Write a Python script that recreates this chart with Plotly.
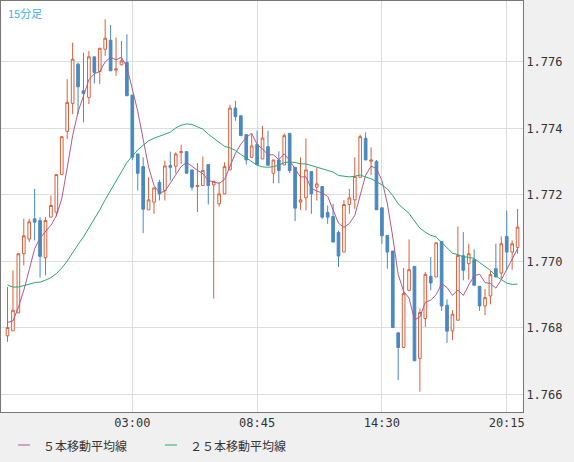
import plotly.graph_objects as go
import pandas as pd

opens = [1.76776,1.76791,1.76845,1.77023,1.77067,1.77128,1.77123,1.77011,1.77133,1.77148,
 1.77261,1.77391,1.77475,1.77593,1.77513,1.77493,1.77615,1.77571,1.77638,1.77665,
 1.77575,1.77591,1.77598,1.77500,1.77323,1.77285,1.77155,1.77178,1.77237,1.77213,
 1.77288,1.77286,1.77327,1.77330,1.77275,1.77225,1.77228,1.77291,1.77230,1.77173,
 1.77203,1.77275,1.77461,1.77438,1.77381,1.77313,1.77351,1.77308,1.77345,1.77265,
 1.77305,1.77290,1.77385,1.77283,1.77178,1.77191,1.77270,1.77223,1.77225,1.77147,
 1.77135,1.77087,1.77028,1.77171,1.77185,1.77253,1.77370,1.77301,1.77300,1.77161,
 1.77078,1.77031,1.76785,1.76741,1.76913,1.76985,1.76708,1.76828,1.76955,1.76953,
 1.77060,1.76868,1.76791,1.76823,1.77017,1.76993,1.77005,1.76925,1.76866,1.76896,
 1.76978,1.76965,1.77075,1.77028,1.77042]
highs = [1.76923,1.76973,1.77023,1.77128,1.77128,1.77218,1.77133,1.77133,1.77198,1.77261,
 1.77375,1.77548,1.77658,1.77598,1.77628,1.77633,1.77615,1.77641,1.77728,1.77711,
 1.77673,1.77663,1.77683,1.77500,1.77323,1.77313,1.77253,1.77221,1.77245,1.77303,
 1.77330,1.77328,1.77351,1.77330,1.77275,1.77296,1.77316,1.77291,1.77241,1.77238,
 1.77298,1.77471,1.77483,1.77438,1.77381,1.77383,1.77393,1.77407,1.77393,1.77305,
 1.77331,1.77385,1.77385,1.77283,1.77313,1.77370,1.77270,1.77281,1.77225,1.77168,
 1.77173,1.77093,1.77185,1.77218,1.77313,1.77381,1.77388,1.77343,1.77305,1.77161,
 1.77078,1.77031,1.76785,1.76980,1.77066,1.76985,1.76858,1.76968,1.77013,1.77056,
 1.77060,1.76886,1.76853,1.77105,1.77088,1.77053,1.77036,1.76925,1.76917,1.76971,
 1.77053,1.77075,1.77153,1.77063,1.77158]
lows = [1.76758,1.76791,1.76845,1.76988,1.77058,1.77063,1.76951,1.76958,1.77133,1.77135,
 1.77261,1.77368,1.77443,1.77443,1.77418,1.77473,1.77535,1.77533,1.77618,1.77573,
 1.77558,1.77591,1.77498,1.77305,1.77213,1.77085,1.77155,1.77143,1.77183,1.77183,
 1.77243,1.77265,1.77293,1.77265,1.77213,1.77148,1.77228,1.77171,1.76888,1.77165,
 1.77203,1.77275,1.77423,1.77378,1.77291,1.77311,1.77291,1.77308,1.77289,1.77235,
 1.77235,1.77290,1.77265,1.77121,1.77155,1.77153,1.77143,1.77183,1.77128,1.77113,
 1.77058,1.76983,1.77028,1.77143,1.77158,1.77253,1.77305,1.77260,1.77155,1.77053,
 1.76978,1.76801,1.76643,1.76741,1.76910,1.76701,1.76608,1.76803,1.76913,1.76953,
 1.76851,1.76755,1.76763,1.76823,1.76943,1.76945,1.76928,1.76851,1.76838,1.76871,
 1.76953,1.76948,1.76975,1.76975,1.77023]
closes = [1.76801,1.76853,1.77023,1.77077,1.77119,1.77118,1.77015,1.77123,1.77168,1.77261,
 1.77375,1.77478,1.77608,1.77525,1.77505,1.77615,1.77568,1.77641,1.77671,1.77573,
 1.77579,1.77603,1.77498,1.77313,1.77265,1.77157,1.77185,1.77221,1.77203,1.77287,
 1.77283,1.77323,1.77330,1.77265,1.77223,1.77228,1.77273,1.77228,1.77241,1.77203,
 1.77285,1.77461,1.77435,1.77378,1.77305,1.77347,1.77291,1.77371,1.77289,1.77305,
 1.77273,1.77378,1.77273,1.77160,1.77185,1.77275,1.77203,1.77233,1.77133,1.77133,
 1.77058,1.77016,1.77171,1.77191,1.77255,1.77375,1.77305,1.77305,1.77155,1.77077,
 1.77028,1.76801,1.76741,1.76903,1.76975,1.76701,1.76846,1.76961,1.76935,1.77056,
 1.76866,1.76790,1.76841,1.77018,1.76973,1.77023,1.76928,1.76866,1.76891,1.76960,
 1.76953,1.77053,1.77028,1.77053,1.77103]
# closes before the visible window (estimated, only used for moving-average warm-up)
prior_closes = [1.7702,1.7701,1.7700,1.7699,1.7700,1.7698,1.7697,1.7698,1.7696,1.7695,
 1.7696,1.7694,1.7695,1.7693,1.7694,1.7692,1.7693,1.7691,1.7690,1.7691,
 1.7683,1.7682,1.7682,1.7681]
tick_pos = [23, 46, 69, 92]
tick_text = ["03:00", "08:45", "14:30", "20:15"]
y_ticks = [1.766, 1.768, 1.770, 1.772, 1.774, 1.776]
legend_names = ["５本移動平均線", "２５本移動平均線"]
ma_colors = ["#b05a8a", "#2aa86a"]

n = len(closes)
x = list(range(n))
allc = pd.Series(prior_closes + closes)
ma5 = allc.rolling(5).mean().iloc[len(prior_closes):].tolist()
ma25 = allc.rolling(25).mean().iloc[len(prior_closes):].tolist()

fig = go.Figure()
fig.add_trace(go.Candlestick(x=x, open=opens, high=highs, low=lows, close=closes,
    increasing=dict(line=dict(color="#d9603b", width=1), fillcolor="white"),
    decreasing=dict(line=dict(color="#4a89c0", width=1), fillcolor="#4a89c0"),
    whiskerwidth=0, showlegend=False, hoverinfo="skip"))
for ys, name, col in zip([ma5, ma25], legend_names, ma_colors):
    fig.add_trace(go.Scatter(x=x, y=ys, mode="lines", line=dict(color=col, width=1),
                             name=name, showlegend=False, hoverinfo="skip"))

W, H = 574, 462
shapes, annotations = [], []
for name, col, x0 in zip(legend_names, ma_colors, [18, 165]):
    shapes.append(dict(type="line", xref="paper", yref="paper",
                       x0=(x0 - 1) / 522, x1=(x0 + 11) / 522,
                       y0=(H - 1 - 445) / 411, y1=(H - 1 - 445) / 411 if False else -(445 - 412) / 411,
                       line=dict(color=col, width=1)))
    annotations.append(dict(text=name, xref="paper", yref="paper", x=(x0 + 22) / 522,
                            y=-(445 - 412) / 411, xanchor="left", yanchor="middle",
                            showarrow=False,
                            font=dict(family="Noto Sans CJK JP", size=12, color="#333")))
for s in shapes:
    s["y0"] = s["y1"]
annotations.append(dict(text="15分足", xref="paper", yref="paper", x=0.01, y=0.995,
                        xanchor="left", yanchor="top", showarrow=False,
                        font=dict(family="Noto Sans CJK JP", size=11, color="#3bb0e8")))

fig.update_layout(
    width=W, height=H, margin=dict(l=1, r=51, t=1, b=50, autoexpand=False),
    paper_bgcolor="#f0f0f0", plot_bgcolor="white", showlegend=False,
    font=dict(family="DejaVu Sans Mono", size=12, color="#333"),
    xaxis=dict(range=[-1.2, 95], tickvals=tick_pos, ticktext=tick_text, showgrid=True,
               gridcolor="#dddddd", zeroline=False, rangeslider=dict(visible=False),
               showline=True, linecolor="#777", mirror=True, ticks="", ticklen=0),
    yaxis=dict(range=[1.76547, 1.77783], side="right", tickvals=y_ticks,
               ticktext=[f"{v:.3f}" for v in y_ticks], showgrid=True, gridcolor="#dddddd",
               zeroline=False, showline=True, linecolor="#777", mirror=True, ticks=""),
    shapes=shapes, annotations=annotations,
)
fig.write_html("out.html", config={"displayModeBar": False})
with open("out.html", encoding="utf-8") as f:
    html = f.read()
html = html.replace("<head>", "<head><style>html,body{margin:0;padding:0;overflow:hidden}</style>", 1)
with open("out.html", "w", encoding="utf-8") as f:
    f.write(html)
